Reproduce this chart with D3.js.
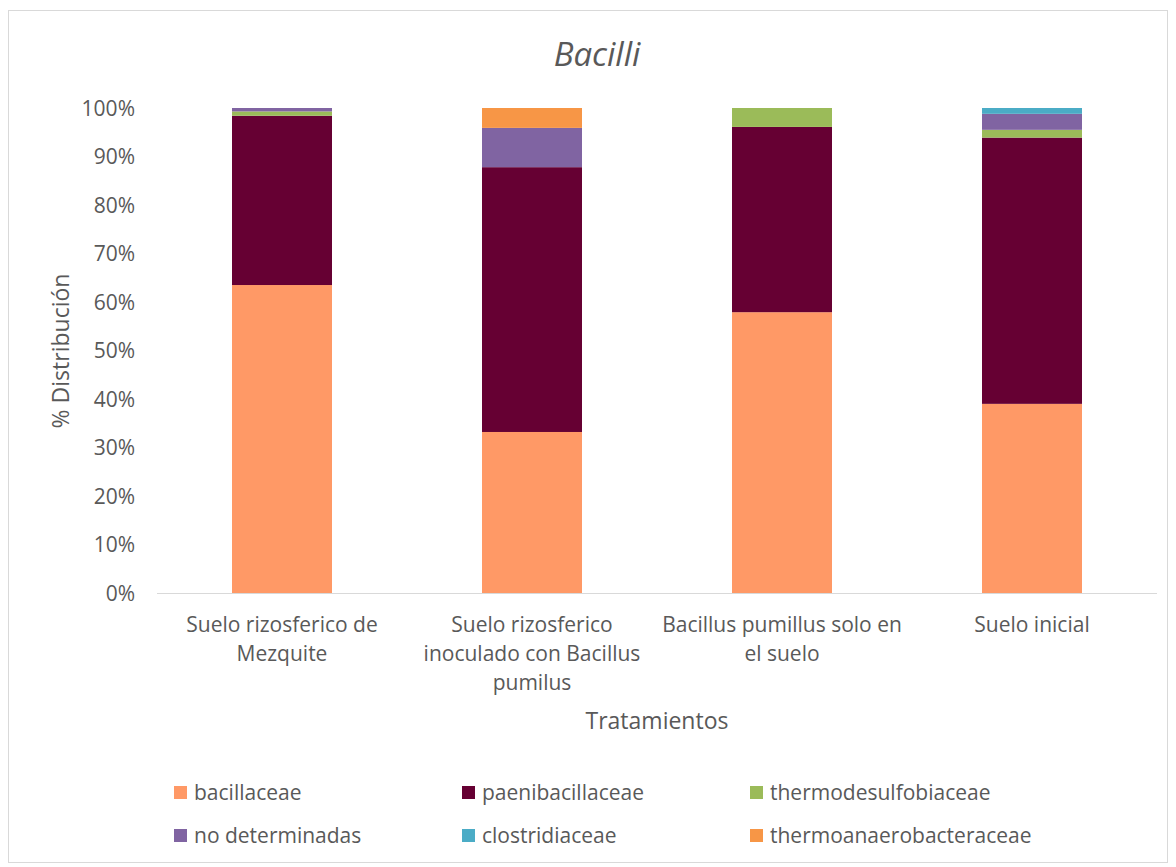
<!DOCTYPE html>
<html>
<head>
<meta charset="utf-8">
<script src="https://cdn.jsdelivr.net/npm/d3@7"></script>
<style>
  html, body { margin: 0; padding: 0; background: #fff; }
  svg text { font-family: "Open Sans", "Noto Sans", sans-serif; fill: #595959; }
</style>
</head>
<body>
<svg id="chart" width="1176" height="867"></svg>
<script>
// Treatments (x categories), each split into text lines
const categories = [
  "Suelo rizosferico de Mezquite",
  "Suelo rizosferico inoculado con Bacillus pumilus",
  "Bacillus pumillus solo en el suelo",
  "Suelo inicial"
];
const categoryLines = [
  ["Suelo rizosferico de", "Mezquite"],
  ["Suelo rizosferico", "inoculado con Bacillus", "pumilus"],
  ["Bacillus pumillus solo en", "el suelo"],
  ["Suelo inicial"]
];

// Families (stack order, bottom to top)
const families = ["bacillaceae", "paenibacillaceae", "thermodesulfobiaceae",
                  "no determinadas", "clostridiaceae", "thermoanaerobacteraceae"];
const familyColors = ["#FF9966", "#660033", "#9BBB59", "#8064A2", "#4BACC6", "#F79646"];

// Percent distribution per family, one value per treatment
const bacillaceae             = [63.5, 33.2, 57.9, 39.0];
const paenibacillaceae        = [34.9, 54.6, 38.2, 54.9];
const thermodesulfobiaceae    = [0.9, 0.0, 3.9, 1.6];
const noDeterminadas          = [0.7, 8.1, 0.0, 3.3];
const clostridiaceae          = [0.0, 0.0, 0.0, 1.2];
const thermoanaerobacteraceae = [0.0, 4.1, 0.0, 0.0];

const yTicks = [0, 10, 20, 30, 40, 50, 60, 70, 80, 90, 100];

const seriesValues = [bacillaceae, paenibacillaceae, thermodesulfobiaceae,
                      noDeterminadas, clostridiaceae, thermoanaerobacteraceae];
const table = categories.map((c, i) => {
  const row = { category: c };
  families.forEach((f, k) => { row[f] = seriesValues[k][i]; });
  return row;
});

const svg = d3.select("#chart");

// Chart area border
svg.append("rect")
  .attr("x", 8.5).attr("y", 10.5).attr("width", 1159).attr("height", 852)
  .attr("fill", "#fff").attr("stroke", "#d9d9d9").attr("stroke-width", 1);

const margin = { left: 157, right: 1157, top: 108, bottom: 593 };

const x = d3.scaleBand().domain(categories)
  .range([margin.left, margin.right]).paddingInner(0.6).paddingOuter(0.3);
const y = d3.scaleLinear().domain([0, 100]).range([margin.bottom, margin.top]);

const stacked = d3.stack().keys(families)(table);

// Bars
svg.append("g").selectAll("g")
  .data(stacked).join("g")
  .attr("fill", (d, i) => familyColors[i])
  .selectAll("rect")
  .data(d => d).join("rect")
  .attr("x", d => x(d.data.category))
  .attr("width", x.bandwidth())
  .attr("y", d => y(d[1]))
  .attr("height", d => Math.max(0, y(d[0]) - y(d[1])));

// Y axis (labels only)
const yAxis = d3.axisLeft(y).tickValues(yTicks).tickFormat(d => d + "%").tickSize(0).tickPadding(0);
const yg = svg.append("g").attr("transform", `translate(${margin.left - 22},0)`).call(yAxis);
yg.select(".domain").remove();
yg.selectAll("text").attr("font-size", 21).attr("fill", "#595959")
  .style("font-family", "'Open Sans', sans-serif").attr("dy", "0.35em");

// X axis baseline
const xg = svg.append("g").attr("transform", `translate(0,${margin.bottom})`)
  .call(d3.axisBottom(x).tickSize(0).tickFormat(""));
xg.select(".domain").attr("stroke", "#d9d9d9").attr("stroke-width", 1)
  .attr("d", `M${margin.left},0.5H${margin.right}`);

// Category labels
categories.forEach((c, i) => {
  const cx = x(c) + x.bandwidth() / 2;
  const t = svg.append("text").attr("x", cx).attr("y", 632)
    .attr("text-anchor", "middle").attr("font-size", 21);
  categoryLines[i].forEach((line, j) => {
    t.append("tspan").attr("x", cx).attr("dy", j === 0 ? 0 : 29).text(line);
  });
});

// Title
svg.append("text").attr("x", 597).attr("y", 66).attr("text-anchor", "middle")
  .attr("font-size", 33).attr("font-style", "italic").text("Bacilli");

// Axis titles
svg.append("text").attr("x", 657).attr("y", 729).attr("text-anchor", "middle")
  .attr("font-size", 23).text("Tratamientos");
svg.append("text").attr("transform", "translate(69,351) rotate(-90)")
  .attr("text-anchor", "middle").attr("font-size", 23).text("% Distribución");

// Legend
const legendX = [174, 462, 750];
const legendY = [793, 836];
families.forEach((f, i) => {
  const lx = legendX[i % 3], ly = legendY[Math.floor(i / 3)];
  svg.append("rect").attr("x", lx).attr("y", ly - 7).attr("width", 13).attr("height", 13)
    .attr("fill", familyColors[i]);
  svg.append("text").attr("x", lx + 20).attr("y", ly).attr("dy", "0.35em")
    .attr("font-size", 21).text(f);
});
</script>
</body>
</html>
